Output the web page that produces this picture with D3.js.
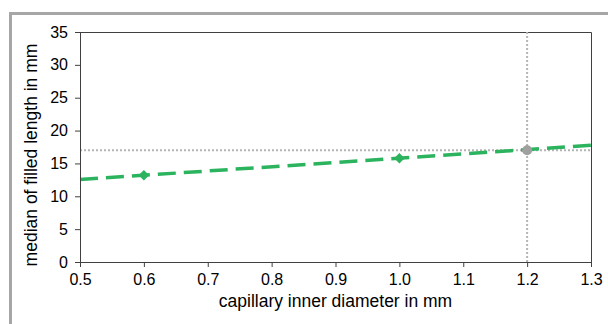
<!DOCTYPE html>
<html>
<head>
<meta charset="utf-8">
<script src="https://cdn.jsdelivr.net/npm/d3@7"></script>
<style>
  body { margin: 0; background: #fff; }
  svg { display: block; font-family: "Liberation Sans", Arial, sans-serif; }
</style>
</head>
<body>
<svg width="608" height="324"></svg>
<script>
// measured points (capillary diameter in mm, median filled length in mm)
var diameters = [0.6, 1.0]
var lengths = [13.2, 15.8]
// trend line ends
var trendX = [0.5, 1.3]
var trendY = [12.55, 17.75]
// highlighted point
var markX = [1.2]
var markY = [17.0]
var xTicks = [0.5, 0.6, 0.7, 0.8, 0.9, 1.0, 1.1, 1.2, 1.3]
var yTicks = [0, 5, 10, 15, 20, 25, 30, 35]

var svg = d3.select('svg')
var pLeft = 80, pRight = 591, pTop = 32, pBottom = 262
var green = '#2bb35e'
var axisColor = '#404040'
var guideColor = '#b4b4b4'

// outer frame
svg.append('rect')
    .attr('x', 10.5).attr('y', 13.5)
    .attr('width', 640).attr('height', 340)
    .attr('fill', 'none')
    .attr('stroke', '#a6a6a6')
    .attr('stroke-width', 3)

var x = d3.scaleLinear().domain([0.5, 1.3]).range([pLeft, pRight])
var y = d3.scaleLinear().domain([0, 35]).range([pBottom, pTop])

// plot box top / right
svg.append('path')
    .attr('d', 'M' + pLeft + ',' + (pTop + 0.5) + 'H' + (pRight + 0.5) + 'V' + pBottom)
    .attr('fill', 'none')
    .attr('stroke', axisColor)

// gray guide lines
svg.append('line')
    .attr('x1', x(0.5)).attr('x2', x(1.3))
    .attr('y1', y(markY[0])).attr('y2', y(markY[0]))
    .attr('stroke', guideColor).attr('stroke-width', 2)
    .attr('stroke-dasharray', '2,2')
svg.append('line')
    .attr('x1', x(markX[0])).attr('x2', x(markX[0]))
    .attr('y1', y(0)).attr('y2', y(35))
    .attr('stroke', guideColor).attr('stroke-width', 2)
    .attr('stroke-dasharray', '2,2')

// dashed trend line
var line = d3.line()
    .x(function (d) { return x(d[0]) })
    .y(function (d) { return y(d[1]) })
svg.append('path')
    .datum(d3.zip(trendX, trendY))
    .attr('d', line)
    .attr('fill', 'none')
    .attr('stroke', green)
    .attr('stroke-width', 3.5)
    .attr('stroke-dasharray', '18,8')

// diamond markers
svg.selectAll('.pt')
    .data(d3.zip(diameters, lengths))
    .enter()
    .append('path')
    .attr('class', 'pt')
    .attr('d', d3.symbol().type(d3.symbolDiamond2).size(70))
    .attr('transform', function (d) { return 'translate(' + x(d[0]) + ',' + y(d[1]) + ')' })
    .attr('fill', green)

svg.selectAll('.mark')
    .data(d3.zip(markX, markY))
    .enter()
    .append('circle')
    .attr('class', 'mark')
    .attr('cx', function (d) { return x(d[0]) })
    .attr('cy', function (d) { return y(d[1]) })
    .attr('r', 5)
    .attr('fill', '#a0a0a0')

// axes
var xAxis = svg.append('g')
    .attr('transform', 'translate(0,' + pBottom + ')')
    .call(d3.axisBottom(x).tickValues(xTicks).tickFormat(d3.format('.1f')).tickSize(5).tickSizeOuter(0))
var yAxis = svg.append('g')
    .attr('transform', 'translate(' + pLeft + ',0)')
    .call(d3.axisLeft(y).tickValues(yTicks).tickSize(5).tickSizeOuter(0))

;[xAxis, yAxis].forEach(function (g) {
    g.selectAll('path, line').attr('stroke', axisColor)
    g.selectAll('text').attr('fill', '#000').style('font-size', '16px')
        .style('font-family', '"Liberation Sans", Arial, sans-serif')
})
xAxis.selectAll('text').attr('dy', '0.95em')
yAxis.selectAll('text').attr('x', -12)

svg.append('text')
    .attr('x', (pLeft + pRight) / 2).attr('y', 307)
    .attr('text-anchor', 'middle')
    .style('font-size', '17.5px')
    .text('capillary inner diameter in mm')

svg.append('text')
    .attr('transform', 'translate(37,155) rotate(-90)')
    .attr('text-anchor', 'middle')
    .style('font-size', '17.5px')
    .text('median of filled length in mm')
</script>
</body>
</html>
